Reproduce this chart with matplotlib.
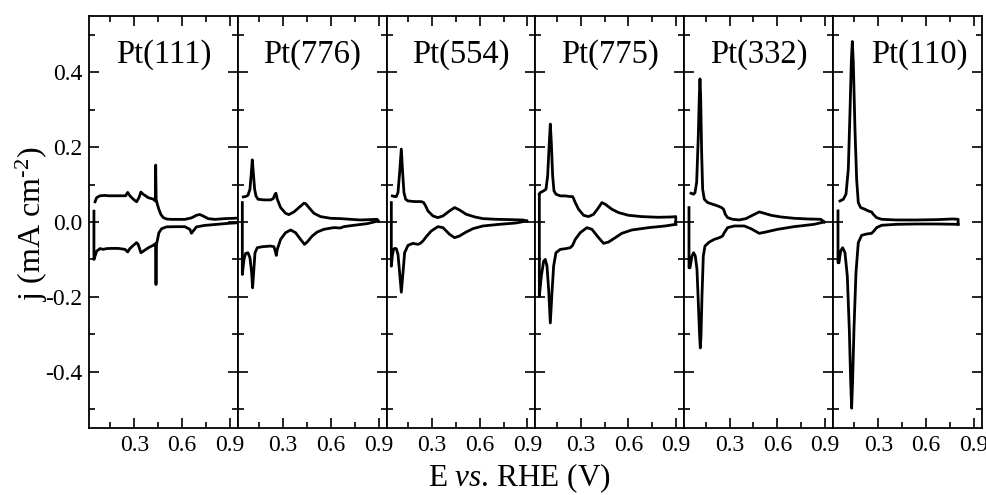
import matplotlib
matplotlib.use("Agg")
import matplotlib.pyplot as plt
from matplotlib.ticker import MultipleLocator, FixedLocator

plt.rcParams['font.family'] = ['Liberation Serif', 'DejaVu Serif']
plt.rcParams['mathtext.fontset'] = 'custom'
plt.rcParams['mathtext.rm'] = 'Liberation Serif'
plt.rcParams['mathtext.it'] = 'Liberation Serif:italic'
plt.rcParams['axes.unicode_minus'] = False

# ---------------- data (E in V vs RHE, j in mA cm^-2) ----------------
labels = ["Pt(111)", "Pt(776)", "Pt(554)", "Pt(775)", "Pt(332)", "Pt(110)"]

pt111_up_E = [0.053, 0.063, 0.084, 0.115, 0.136, 0.178, 0.220, 0.245, 0.258, 0.272, 0.293, 0.314, 0.329, 0.341, 0.356, 0.387, 0.419, 0.432, 0.434, 0.437, 0.446, 0.454, 0.467, 0.481, 0.502, 0.534, 0.575, 0.617, 0.659, 0.690, 0.711, 0.732, 0.764, 0.805, 0.868, 0.931, 0.998]
pt111_up_j = [0.054, 0.065, 0.070, 0.071, 0.070, 0.070, 0.070, 0.070, 0.079, 0.070, 0.061, 0.054, 0.065, 0.080, 0.074, 0.065, 0.061, 0.056, 0.152, 0.060, 0.045, 0.034, 0.020, 0.012, 0.008, 0.007, 0.007, 0.007, 0.011, 0.018, 0.020, 0.016, 0.009, 0.007, 0.009, 0.010, 0.012]
pt111_dn_E = [0.046, 0.046, 0.053, 0.063, 0.084, 0.105, 0.126, 0.157, 0.199, 0.241, 0.258, 0.272, 0.293, 0.314, 0.324, 0.341, 0.356, 0.387, 0.419, 0.433, 0.436, 0.439, 0.446, 0.454, 0.471, 0.502, 0.555, 0.617, 0.649, 0.659, 0.670, 0.690, 0.743, 0.826, 0.889, 0.952, 0.998, 0.998]
pt111_dn_j = [0.029, -0.100, -0.091, -0.078, -0.071, -0.073, -0.071, -0.0705, -0.0705, -0.073, -0.080, -0.071, -0.0625, -0.055, -0.060, -0.082, -0.078, -0.069, -0.062, -0.058, -0.167, -0.060, -0.046, -0.029, -0.018, -0.013, -0.0125, -0.0125, -0.0196, -0.030, -0.024, -0.013, -0.009, -0.006, -0.0036, -0.002, -0.006, 0.012]

pt776_up_E = [0.0497, 0.0641, 0.079, 0.0915, 0.100, 0.106, 0.1125, 0.1208, 0.129, 0.1417, 0.179, 0.221, 0.238, 0.2484, 0.2547, 0.263, 0.284, 0.315, 0.336, 0.3676, 0.399, 0.430, 0.441, 0.462, 0.493, 0.535, 0.5977, 0.6605, 0.723, 0.786, 0.8485, 0.890, 0.897]
pt776_up_j = [0.067, 0.068, 0.0715, 0.0876, 0.132, 0.166, 0.132, 0.0876, 0.0697, 0.0608, 0.059, 0.059, 0.0626, 0.074, 0.0768, 0.0608, 0.0385, 0.0233, 0.0197, 0.0269, 0.0385, 0.050, 0.049, 0.0385, 0.0233, 0.0144, 0.0099, 0.0090, 0.0072, 0.0054, 0.0064, 0.0072, 0.0028]
pt776_dn_E = [0.0434, 0.0434, 0.0539, 0.0641, 0.079, 0.0915, 0.102, 0.108, 0.1145, 0.123, 0.1375, 0.169, 0.221, 0.242, 0.2505, 0.257, 0.263, 0.284, 0.315, 0.347, 0.378, 0.409, 0.434, 0.451, 0.4826, 0.514, 0.556, 0.618, 0.6605, 0.681, 0.744, 0.828, 0.897]
pt776_dn_j = [0.0519, -0.140, -0.0999, -0.0840, -0.0822, -0.0956, -0.1356, -0.1757, -0.1356, -0.0822, -0.0686, -0.066, -0.0642, -0.066, -0.0776, -0.0892, -0.0731, -0.0463, -0.0285, -0.0213, -0.0285, -0.0463, -0.0597, -0.0534, -0.0374, -0.0267, -0.0195, -0.015, -0.0159, -0.0124, -0.0088, -0.0044, 0.0028]

pt554_up_E = [0.051, 0.0656, 0.076, 0.0865, 0.0969, 0.1074, 0.1158, 0.124, 0.1346, 0.1493, 0.191, 0.233, 0.2476, 0.2601, 0.2747, 0.306, 0.3375, 0.369, 0.4106, 0.4423, 0.473, 0.515, 0.569, 0.620, 0.7035, 0.787, 0.8707, 0.8958]
pt554_up_j = [0.0697, 0.0679, 0.0679, 0.0786, 0.132, 0.1947, 0.132, 0.0786, 0.0608, 0.0563, 0.0545, 0.0545, 0.0519, 0.043, 0.0296, 0.0162, 0.0117, 0.0162, 0.0296, 0.0385, 0.0322, 0.0206, 0.0135, 0.0090, 0.0072, 0.0064, 0.0054, 0.0028]
pt554_dn_E = [0.0447, 0.0447, 0.051, 0.058, 0.0656, 0.076, 0.0865, 0.0969, 0.1074, 0.118, 0.1283, 0.1493, 0.180, 0.212, 0.2266, 0.2434, 0.2643, 0.2956, 0.3375, 0.369, 0.4106, 0.4423, 0.473, 0.515, 0.5584, 0.620, 0.7243, 0.8289, 0.8958]
pt554_dn_j = [0.0519, -0.118, -0.090, -0.074, -0.0704, -0.0713, -0.0865, -0.1356, -0.1874, -0.1356, -0.082, -0.0624, -0.057, -0.0597, -0.057, -0.0507, -0.0391, -0.024, -0.0124, -0.015, -0.0329, -0.0418, -0.0374, -0.0267, -0.0177, -0.0106, -0.0062, -0.0026, 0.0028]

pt775_up_E = [0.0397, 0.046, 0.0669, 0.0815, 0.092, 0.1024, 0.1087, 0.115, 0.1233, 0.1317, 0.1442, 0.1714, 0.2028, 0.2342, 0.2488, 0.2551, 0.2655, 0.2864, 0.3178, 0.3491, 0.3805, 0.412, 0.4329, 0.4538, 0.4956, 0.5374, 0.6001, 0.6838, 0.7883, 0.8719, 0.8970, 0.8970]
pt775_up_j = [0.0742, 0.0786, 0.0831, 0.0876, 0.1233, 0.2125, 0.2616, 0.2125, 0.1233, 0.0831, 0.0742, 0.0697, 0.0697, 0.0679, 0.0679, 0.0626, 0.0518, 0.034, 0.0179, 0.0144, 0.0206, 0.0385, 0.0518, 0.0474, 0.034, 0.0251, 0.0179, 0.0144, 0.0126, 0.0135, 0.0144, -0.0062]
pt775_dn_E = [0.0397, 0.0397, 0.0522, 0.0669, 0.0773, 0.0878, 0.0982, 0.1087, 0.1191, 0.1296, 0.1442, 0.1714, 0.2028, 0.2342, 0.2488, 0.2655, 0.2968, 0.3387, 0.3701, 0.412, 0.4433, 0.4747, 0.5165, 0.5583, 0.621, 0.7255, 0.8301, 0.8970]
pt775_dn_j = [0.0742, -0.1981, -0.1445, -0.1044, -0.0999, -0.1177, -0.1802, -0.2695, -0.1891, -0.1177, -0.082, -0.0731, -0.0713, -0.0686, -0.0624, -0.0463, -0.0285, -0.0151, -0.0195, -0.0418, -0.057, -0.0535, -0.0419, -0.0302, -0.0213, -0.0151, -0.0106, -0.0062]

pt332_up_E = [0.0577, 0.0744, 0.0828, 0.0932, 0.1037, 0.110, 0.1141, 0.1183, 0.1246, 0.1309, 0.1413, 0.1622, 0.1936, 0.2250, 0.2500, 0.2626, 0.2732, 0.2877, 0.3190, 0.3608, 0.4032, 0.4444, 0.4864, 0.5178, 0.5596, 0.6223, 0.7059, 0.7896, 0.8732, 0.8941]
pt332_up_j = [0.0768, 0.0742, 0.0786, 0.1054, 0.2303, 0.3373, 0.382, 0.3373, 0.1856, 0.0876, 0.0608, 0.0519, 0.0474, 0.043, 0.0385, 0.034, 0.0206, 0.0117, 0.0072, 0.0055, 0.009, 0.018, 0.0269, 0.0233, 0.018, 0.0135, 0.0099, 0.0081, 0.0072, 0.0]
pt332_dn_E = [0.0451, 0.0451, 0.0514, 0.0639, 0.0744, 0.0848, 0.0953, 0.1037, 0.1120, 0.1162, 0.1204, 0.1267, 0.1350, 0.1455, 0.1727, 0.2040, 0.2356, 0.2563, 0.2668, 0.2877, 0.3296, 0.3923, 0.4343, 0.4864, 0.5283, 0.6014, 0.7059, 0.8314, 0.8941]
pt332_dn_j = [0.0385, -0.1222, -0.1222, -0.0909, -0.082, -0.0909, -0.1266, -0.2159, -0.3052, -0.3364, -0.3052, -0.1981, -0.0909, -0.0642, -0.0535, -0.0463, -0.0419, -0.0374, -0.0285, -0.0151, -0.0106, -0.0106, -0.0178, -0.0302, -0.0267, -0.0196, -0.0124, -0.0062, 0.0]

pt110_up_E = [0.0589, 0.0798, 0.0966, 0.1112, 0.1217, 0.1300, 0.1363, 0.1426, 0.1530, 0.1635, 0.1739, 0.1886, 0.2158, 0.2367, 0.2576, 0.2680, 0.2889, 0.3203, 0.4144, 0.5399, 0.6653, 0.7699, 0.8013, 0.8013]
pt110_up_j = [0.0562, 0.0607, 0.0741, 0.1410, 0.2927, 0.4266, 0.4819, 0.4266, 0.2481, 0.1143, 0.0519, 0.0385, 0.034, 0.0295, 0.0268, 0.0206, 0.0117, 0.0072, 0.0054, 0.0054, 0.0063, 0.0081, 0.0072, -0.0062]
pt110_dn_E = [0.0464, 0.0464, 0.0526, 0.0631, 0.0756, 0.0903, 0.1049, 0.1175, 0.1258, 0.1321, 0.1384, 0.1467, 0.1593, 0.1739, 0.1948, 0.2262, 0.2576, 0.2722, 0.2889, 0.3203, 0.4144, 0.5399, 0.6653, 0.8013]
pt110_dn_j = [0.0295, -0.1088, -0.1088, -0.0776, -0.0686, -0.0820, -0.1445, -0.2873, -0.4212, -0.4970, -0.4212, -0.2873, -0.1355, -0.0552, -0.0356, -0.032, -0.0302, -0.024, -0.0151, -0.0088, -0.0062, -0.0053, -0.0053, -0.0062]

curves = [
    (pt111_up_E, pt111_up_j, pt111_dn_E, pt111_dn_j),
    (pt776_up_E, pt776_up_j, pt776_dn_E, pt776_dn_j),
    (pt554_up_E, pt554_up_j, pt554_dn_E, pt554_dn_j),
    (pt775_up_E, pt775_up_j, pt775_dn_E, pt775_dn_j),
    (pt332_up_E, pt332_up_j, pt332_dn_E, pt332_dn_j),
    (pt110_up_E, pt110_up_j, pt110_dn_E, pt110_dn_j),
]

# ---------------- figure ----------------
W, H = 987, 495
fig = plt.figure(figsize=(W / 100, H / 100), dpi=100)
left0, pw = 89, 148.8
top_px, bot_px = 16, 428
label_xfrac = [0.5, 0.5, 0.5, 0.5, 0.5, 0.58]   # layout only

for k, (lab, (ue, uj, de, dj)) in enumerate(zip(labels, curves)):
    ax = fig.add_axes([(left0 + k * pw) / W, (H - bot_px) / H, pw / W, (bot_px - top_px) / H])
    ax.plot(ue, uj, color='black', lw=2.0, clip_on=False, solid_joinstyle='round')
    ax.plot(de, dj, color='black', lw=2.0, clip_on=False, solid_joinstyle='round')
    ax.set_xlim(0.015, 0.95)
    ax.set_ylim(-0.55, 0.55)
    ax.xaxis.set_major_locator(FixedLocator([0.3, 0.6, 0.9]))
    ax.xaxis.set_minor_locator(FixedLocator([0.15, 0.45, 0.75]))
    ax.yaxis.set_major_locator(MultipleLocator(0.2))
    ax.yaxis.set_minor_locator(FixedLocator([-0.5, -0.3, -0.1, 0.1, 0.3, 0.5]))
    ax.tick_params(which='both', direction='in', top=True, right=True, width=1.2,
                   labelsize=17, colors='black')
    ax.tick_params(which='major', length=7, pad=5)
    ax.tick_params(which='minor', length=4)
    for s in ax.spines.values():
        s.set_linewidth(1.3)
    ax.set_xticklabels(['0.3', '0.6', '0.9'])
    if k == 0:
        ax.set_yticks([-0.4, -0.2, 0.0, 0.2, 0.4])
        ax.set_yticklabels(['-0.4', '-0.2', '0.0', '0.2', '0.4'])
    else:
        ax.tick_params(labelleft=False)
    ax.text(label_xfrac[k], 0.886, lab, transform=ax.transAxes, ha='center', va='baseline', fontsize=23.5)

fig.text(519 / W, 9 / H, r'E $\mathit{vs}$. RHE (V)', ha='center', va='baseline', fontsize=22.5)
fig.text(32 / W, (H - 224) / H, r'j (mA cm$^{\text{-2}}$)', ha='center', va='center',
         rotation=90, fontsize=23)

fig.savefig('out.png', dpi=100)
